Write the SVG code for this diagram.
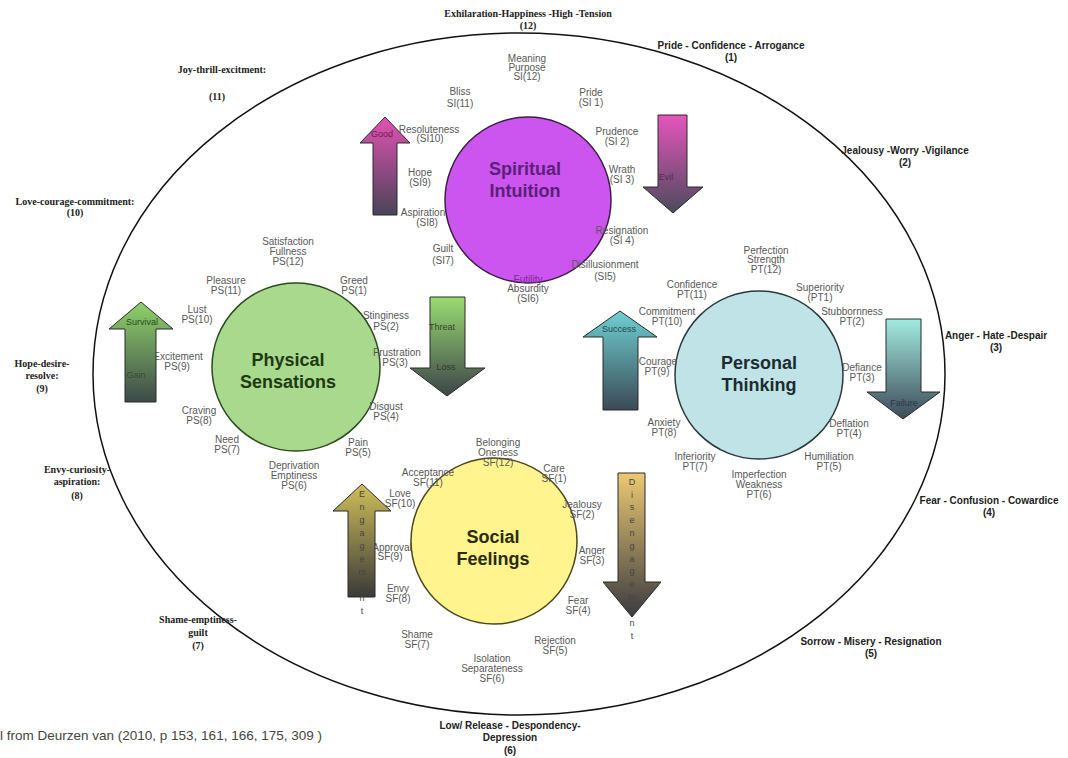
<svg xmlns="http://www.w3.org/2000/svg" width="1068" height="758" viewBox="0 0 1068 758">
<style>
.l{font-family:"Liberation Sans",Arial,sans-serif;font-size:10px;fill:#585858;text-anchor:middle}
.ob{font-family:"Liberation Sans",Arial,sans-serif;font-size:10px;font-weight:bold;fill:#222;text-anchor:middle}
.os{font-family:"Liberation Serif","Times New Roman",serif;font-size:10px;font-weight:bold;fill:#222;text-anchor:middle}
.t{font-family:"Liberation Sans",Arial,sans-serif;font-size:18px;font-weight:bold;text-anchor:middle}
.al{font-family:"Liberation Sans",Arial,sans-serif;font-size:9px;text-anchor:middle}
.arr{stroke:#2a2a2a;stroke-width:1}
.cite{font-family:"Liberation Sans",Arial,sans-serif;font-size:13.5px;fill:#444}
</style>
<defs>
<linearGradient id="gPink" x1="0" y1="0" x2="0" y2="1"><stop offset="0" stop-color="#e352b4"/><stop offset="1" stop-color="#484458"/></linearGradient>
<linearGradient id="gPink2" x1="0" y1="0" x2="0" y2="1"><stop offset="0" stop-color="#e655bd"/><stop offset="1" stop-color="#4c4a5c"/></linearGradient>
<linearGradient id="gGreen" x1="0" y1="0" x2="0" y2="1"><stop offset="0" stop-color="#8fd26a"/><stop offset="1" stop-color="#3d4a48"/></linearGradient>
<linearGradient id="gGreen2" x1="0" y1="0" x2="0" y2="1"><stop offset="0" stop-color="#9adc72"/><stop offset="1" stop-color="#3d4548"/></linearGradient>
<linearGradient id="gTeal" x1="0" y1="0" x2="0" y2="1"><stop offset="0" stop-color="#6fd0d2"/><stop offset="1" stop-color="#3b4a56"/></linearGradient>
<linearGradient id="gTeal2" x1="0" y1="0" x2="0" y2="1"><stop offset="0" stop-color="#a2ece0"/><stop offset="1" stop-color="#3d4a58"/></linearGradient>
<linearGradient id="gOlive" x1="0" y1="0" x2="0" y2="1"><stop offset="0" stop-color="#d0bf5a"/><stop offset="1" stop-color="#3a3a38"/></linearGradient>
<linearGradient id="gOlive2" x1="0" y1="0" x2="0" y2="1"><stop offset="0" stop-color="#ecc972"/><stop offset="1" stop-color="#3a3a40"/></linearGradient>
</defs>
<rect width="1068" height="758" fill="#ffffff"/>

<g id="outer-ellipse"><ellipse cx="519" cy="374" rx="426" ry="341" fill="none" stroke="#111" stroke-width="1.5"/></g>

<g id="outer-labels">
<text class="os" x="528" y="17">Exhilaration-Happiness -High -Tension<tspan x="528" dy="12">(12)</tspan></text>
<text class="ob" x="731" y="48.5">Pride - Confidence - Arrogance<tspan x="731" dy="12">(1)</tspan></text>
<text class="ob" x="905" y="153.5">Jealousy -Worry -Vigilance<tspan x="905" dy="12">(2)</tspan></text>
<text class="ob" x="996" y="338.5">Anger - Hate -Despair<tspan x="996" dy="12">(3)</tspan></text>
<text class="ob" x="989" y="503.5">Fear - Confusion - Cowardice<tspan x="989" dy="12">(4)</tspan></text>
<text class="ob" x="871" y="644.5">Sorrow - Misery - Resignation<tspan x="871" dy="12">(5)</tspan></text>
<text class="ob" x="510" y="729">Low/ Release - Despondency-<tspan x="510" dy="12">Depression</tspan><tspan x="510" dy="13">(6)</tspan></text>
<text class="os" x="198" y="623">Shame-emptiness-<tspan x="198" dy="13">guilt</tspan><tspan x="198" dy="13">(7)</tspan></text>
<text class="os" x="77" y="473">Envy-curiosity-<tspan x="77" dy="12">aspiration:</tspan><tspan x="77" dy="14">(8)</tspan></text>
<text class="os" x="42" y="367">Hope-desire-<tspan x="42" dy="12">resolve:</tspan><tspan x="42" dy="13">(9)</tspan></text>
<text class="os" x="75" y="205">Love-courage-commitment:<tspan x="75" dy="11">(10)</tspan></text>
<text class="os" x="222" y="73">Joy-thrill-excitment:</text>
<text class="os" x="217" y="100">(11)</text>
</g>

<g id="spiritual-intuition">
<circle cx="528" cy="200" r="83" fill="#cc55f0" stroke="#3a2040" stroke-width="1.5"/>
<text class="t" x="525" y="175" fill="#5b1f78">Spiritual<tspan x="525" dy="22">Intuition</tspan></text>
</g>
<g id="physical-sensations">
<circle cx="296" cy="367" r="84" fill="#a9d98c" stroke="#2c4a20" stroke-width="1.5"/>
<text class="t" x="288" y="366" fill="#1d3a12">Physical<tspan x="288" dy="22">Sensations</tspan></text>
</g>
<g id="personal-thinking">
<circle cx="759" cy="375" r="84" fill="#bfe3e6" stroke="#2a3a3c" stroke-width="1.5"/>
<text class="t" x="759" y="369" fill="#1b2b30">Personal<tspan x="759" dy="22">Thinking</tspan></text>
</g>
<g id="social-feelings">
<circle cx="494" cy="541" r="83" fill="#fff48e" stroke="#4a4620" stroke-width="1.5"/>
<text class="t" x="493" y="543" fill="#2b2a0e">Social<tspan x="493" dy="22">Feelings</tspan></text>
</g>

<g id="si-labels">
<text class="l" x="527" y="61.5">Meaning<tspan x="527" dy="9">Purpose</tspan><tspan x="527" dy="9">SI(12)</tspan></text>
<text class="l" x="460" y="94.5">Bliss<tspan x="460" dy="12">SI(11)</tspan></text>
<text class="l" x="591" y="95.5">Pride<tspan x="591" dy="10.5">(SI 1)</tspan></text>
<text class="l" x="429" y="132.5">Resoluteness<tspan x="430" dy="9.5">(SI10)</tspan></text>
<text class="l" x="617" y="134.5">Prudence<tspan x="617" dy="10">(SI 2)</tspan></text>
<text class="l" x="420" y="175.5">Hope<tspan x="420" dy="10">(SI9)</tspan></text>
<text class="l" x="622" y="172.5">Wrath<tspan x="622" dy="10">(SI 3)</tspan></text>
<text class="l" x="423" y="215.5">Aspiration<tspan x="427" dy="10">(SI8)</tspan></text>
<text class="l" x="622" y="233.5">Resignation<tspan x="622" dy="10.5">(SI 4)</tspan></text>
<text class="l" x="443" y="251.5">Guilt<tspan x="443" dy="12">(SI7)</tspan></text>
<text class="l" x="605" y="267.5">Disillusionment<tspan x="605" dy="12.5">(SI5)</tspan></text>
<text class="l" x="528" y="282.5" style="fill:#7a2a92">Futility</text>
<text class="l" x="528" y="291.5">Absurdity<tspan x="528" dy="10">(SI6)</tspan></text>
</g>

<g id="ps-labels">
<text class="l" x="288" y="244.5">Satisfaction<tspan x="288" dy="10">Fullness</tspan><tspan x="288" dy="10">PS(12)</tspan></text>
<text class="l" x="226" y="283.5">Pleasure<tspan x="226" dy="10">PS(11)</tspan></text>
<text class="l" x="354" y="283.5">Greed<tspan x="354" dy="10">PS(1)</tspan></text>
<text class="l" x="197" y="312.5">Lust<tspan x="197" dy="10">PS(10)</tspan></text>
<text class="l" x="386" y="318.5">Stinginess<tspan x="386" dy="11.5">PS(2)</tspan></text>
<text class="l" x="178" y="359.5">Excitement<tspan x="177" dy="10">PS(9)</tspan></text>
<text class="l" x="397" y="355.5">Frustration<tspan x="395" dy="10">PS(3)</tspan></text>
<text class="l" x="199" y="413.5">Craving<tspan x="199" dy="10">PS(8)</tspan></text>
<text class="l" x="386" y="409.5">Disgust<tspan x="386" dy="10">PS(4)</tspan></text>
<text class="l" x="227" y="442.5">Need<tspan x="227" dy="10">PS(7)</tspan></text>
<text class="l" x="358" y="445.5">Pain<tspan x="358" dy="10">PS(5)</tspan></text>
<text class="l" x="294" y="468.5">Deprivation<tspan x="294" dy="10">Emptiness</tspan><tspan x="294" dy="10">PS(6)</tspan></text>
</g>

<g id="pt-labels">
<text class="l" x="766" y="253.5">Perfection<tspan x="766" dy="9.5">Strength</tspan><tspan x="766" dy="9.5">PT(12)</tspan></text>
<text class="l" x="692" y="287.5">Confidence<tspan x="692" dy="10">PT(11)</tspan></text>
<text class="l" x="820" y="290.5">Superiority<tspan x="820" dy="10">(PT1)</tspan></text>
<text class="l" x="667" y="314.5">Commitment<tspan x="667" dy="10">PT(10)</tspan></text>
<text class="l" x="852" y="314.5">Stubbornness<tspan x="852" dy="10">PT(2)</tspan></text>
<text class="l" x="658" y="364.5">Courage<tspan x="657" dy="10">PT(9)</tspan></text>
<text class="l" x="862" y="370.5">Defiance<tspan x="862" dy="10">PT(3)</tspan></text>
<text class="l" x="664" y="425.5">Anxiety<tspan x="664" dy="10">PT(8)</tspan></text>
<text class="l" x="849" y="426.5">Deflation<tspan x="849" dy="10">PT(4)</tspan></text>
<text class="l" x="695" y="459.5">Inferiority<tspan x="695" dy="10">PT(7)</tspan></text>
<text class="l" x="829" y="459.5">Humiliation<tspan x="829" dy="10">PT(5)</tspan></text>
<text class="l" x="759" y="477.5">Imperfection<tspan x="759" dy="10">Weakness</tspan><tspan x="759" dy="10">PT(6)</tspan></text>
</g>

<g id="sf-labels">
<text class="l" x="498" y="445.5">Belonging<tspan x="498" dy="10">Oneness</tspan><tspan x="498" dy="10">SF(12)</tspan></text>
<text class="l" x="428" y="475.5">Acceptance<tspan x="428" dy="10">SF(11)</tspan></text>
<text class="l" x="554" y="471.5">Care<tspan x="554" dy="10">SF(1)</tspan></text>
<text class="l" x="400" y="496.5">Love<tspan x="400" dy="10">SF(10)</tspan></text>
<text class="l" x="582" y="507.5">Jealousy<tspan x="582" dy="10">SF(2)</tspan></text>
<text class="l" x="392" y="550.5">Approval<tspan x="390" dy="9.5">SF(9)</tspan></text>
<text class="l" x="592" y="553.5">Anger<tspan x="592" dy="10">SF(3)</tspan></text>
<text class="l" x="398" y="591.5">Envy<tspan x="398" dy="10">SF(8)</tspan></text>
<text class="l" x="578" y="603.5">Fear<tspan x="578" dy="10.5">SF(4)</tspan></text>
<text class="l" x="417" y="637.5">Shame<tspan x="417" dy="10.5">SF(7)</tspan></text>
<text class="l" x="555" y="643.5">Rejection<tspan x="555" dy="10">SF(5)</tspan></text>
<text class="l" x="492" y="661.5">Isolation<tspan x="492" dy="10">Separateness</tspan><tspan x="492" dy="10">SF(6)</tspan></text>
</g>

<g id="arrows">
<g id="arrow-good">
<polygon class="arr" fill="url(#gPink)" points="385,117 410,143 397,143 397,215 373,215 373,143 360,143"/>
<text class="al" x="382" y="137" fill="#6a1f50">Good</text>
</g>
<g id="arrow-evil">
<polygon class="arr" fill="url(#gPink2)" points="658,115 687,115 687,187 703,187 673,213 643,187 658,187"/>
<text class="al" x="666" y="180" fill="#5a2a55">Evil</text>
</g>
<g id="arrow-survival">
<polygon class="arr" fill="url(#gGreen)" points="141,302 173,329 156,329 156,402 125,402 125,329 109,329"/>
<text class="al" x="142" y="325" fill="#2a4a1a">Survival</text>
<text class="al" x="136" y="378" fill="#3a4a30">Gain</text>
</g>
<g id="arrow-threat">
<polygon class="arr" fill="url(#gGreen2)" points="430,297 465,297 465,368 485,368 447,396 410,368 430,368"/>
<text class="al" x="442" y="330" fill="#2f4a20">Threat</text>
<text class="al" x="446" y="370" fill="#333">Loss</text>
</g>
<g id="arrow-success">
<polygon class="arr" fill="url(#gTeal)" points="620,311 657,337 638,337 638,410 603,410 603,337 583,337"/>
<text class="al" x="619" y="332" fill="#1f4a50">Success</text>
</g>
<g id="arrow-failure">
<polygon class="arr" fill="url(#gTeal2)" points="886,319 921,319 921,392 940,392 903,419 867,392 886,392"/>
<text class="al" x="904" y="406" fill="#2a3a40">Failure</text>
</g>
<g id="arrow-engagement">
<polygon class="arr" fill="url(#gOlive)" points="362,484 391,511 375,511 375,597 348,597 348,511 333,511"/>
<text class="al" fill="#444"><tspan x="362" y="497">E</tspan><tspan x="362" y="510">n</tspan><tspan x="362" y="523">g</tspan><tspan x="362" y="536">a</tspan><tspan x="362" y="549">g</tspan><tspan x="362" y="562">e</tspan><tspan x="362" y="575">m</tspan><tspan x="362" y="588">e</tspan><tspan x="362" y="601">n</tspan><tspan x="362" y="614">t</tspan></text>
</g>
<g id="arrow-disengagement">
<polygon class="arr" fill="url(#gOlive2)" points="618,473 645,473 645,582 661,582 632,617 603,582 618,582"/>
<text class="al" fill="#444"><tspan x="632" y="485">D</tspan><tspan x="632" y="498">i</tspan><tspan x="632" y="510">s</tspan><tspan x="632" y="523">e</tspan><tspan x="632" y="536">n</tspan><tspan x="632" y="549">g</tspan><tspan x="632" y="562">a</tspan><tspan x="632" y="574">g</tspan><tspan x="632" y="587">e</tspan><tspan x="632" y="600">m</tspan><tspan x="632" y="613">e</tspan><tspan x="632" y="626">n</tspan><tspan x="632" y="639">t</tspan></text>
</g>
</g>

<text class="cite" x="0" y="740">l from Deurzen van (2010, p 153, 161, 166, 175, 309 )</text>
</svg>
